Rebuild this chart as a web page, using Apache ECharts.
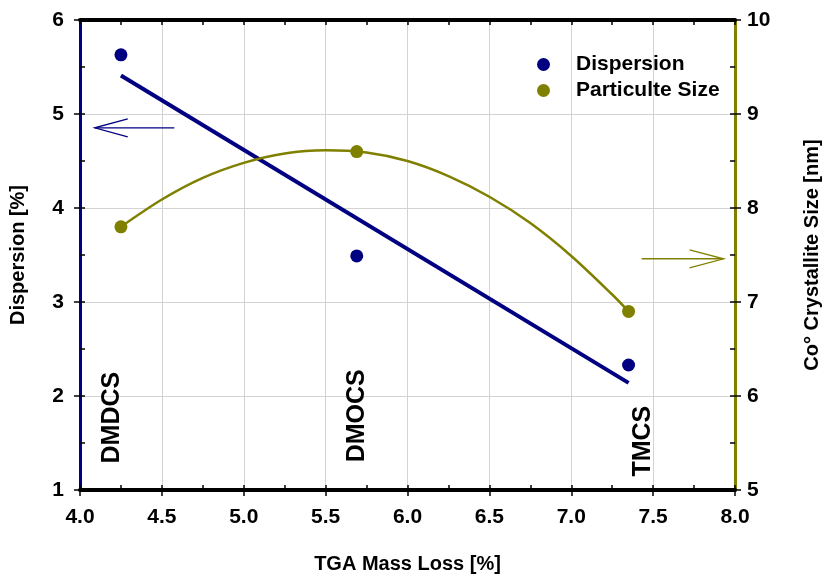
<!DOCTYPE html>
<html><head><meta charset="utf-8">
<script src="https://cdn.jsdelivr.net/npm/echarts@6/dist/echarts.min.js"></script>
<style>html,body{margin:0;padding:0;background:#fff}#c{width:830px;height:579px}</style>
</head><body><div id="c"></div>
<script>
const tgaLoss = [4.25, 5.69, 7.35];
const dispersion = [5.63, 3.49, 2.33];
const crystalliteSize = [7.8, 8.6, 6.9];
const sampleNames = ['DMDCS', 'DMOCS', 'TMCS'];
const dispersionFitX = [4.25, 7.35];
const dispersionFitY = [5.41, 2.14];
const sizeFitX = [4.25, 4.5, 4.75, 5.0, 5.25, 5.5, 5.75, 6.0, 6.25, 6.5, 6.75, 7.0, 7.25, 7.35];
const sizeFitY = [7.8, 8.09, 8.32, 8.48, 8.58, 8.615, 8.59, 8.5, 8.34, 8.12, 7.84, 7.49, 7.08, 6.9];
const xTicks = ['4.0','4.5','5.0','5.5','6.0','6.5','7.0','7.5','8.0'];

const NAVY = '#000080', OLIVE = '#808000';
const FONT = '"Liberation Sans", Arial, sans-serif';
const zip = (a, b) => a.map((v, i) => [v, b[i]]);

const chart = echarts.init(document.getElementById('c'));
const tickLbl = {fontFamily: FONT, fontWeight: 'bold', fontSize: 21, color: '#000'};
chart.setOption({
  animation: false,
  grid: {left: 80, right: 89, top: 20, bottom: 84},
  legend: {
    orient: 'vertical', left: 532, top: 49, itemGap: 5, itemWidth: 13, itemHeight: 13,
    icon: 'circle',
    textStyle: {fontFamily: FONT, fontWeight: 'bold', fontSize: 21, color: '#000', padding: [0,0,0,21]},
    data: ['Dispersion', 'Particulte Size']
  },
  xAxis: [
    {type: 'value', position: 'bottom', min: 4, max: 8, interval: 0.5,
     axisLine: {lineStyle: {color: '#000', width: 4}},
     axisTick: {show: true, length: 6, lineStyle: {color: '#000', width: 1.5}},
     axisLabel: Object.assign({margin: 17, formatter: (v) => xTicks[Math.round((v - 4) / 0.5)]}, tickLbl),
     splitLine: {show: true, lineStyle: {color: '#d3d3d3', width: 1}},
     name: 'TGA Mass Loss [%]', nameLocation: 'middle', nameGap: 64,
     nameTextStyle: {fontFamily: FONT, fontWeight: 'bold', fontSize: 20, color: '#000'}},
    {type: 'value', position: 'top', min: 4, max: 8, interval: 0.25,
     axisLine: {lineStyle: {color: '#000', width: 4}},
     axisTick: {show: true, inside: true, length: 5, lineStyle: {color: '#000', width: 1.5}},
     axisLabel: {show: false}, splitLine: {show: false}},
    {type: 'value', position: 'bottom', min: 4, max: 8, interval: 0.25,
     axisLine: {show: false},
     axisTick: {show: true, inside: true, length: 5, lineStyle: {color: '#000', width: 1.5}},
     axisLabel: {show: false}, splitLine: {show: false}}
  ],
  yAxis: [
    {type: 'value', position: 'left', min: 1, max: 6, interval: 1,
     axisLine: {show: true, lineStyle: {color: NAVY, width: 3}},
     axisTick: {show: true, length: 6, lineStyle: {color: '#000', width: 1.5}},
     axisLabel: Object.assign({margin: 16}, tickLbl),
     splitLine: {show: true, lineStyle: {color: '#d3d3d3', width: 1}},
     name: 'Dispersion [%]', nameLocation: 'middle', nameGap: 52, nameRotate: 90,
     nameTextStyle: {fontFamily: FONT, fontWeight: 'bold', fontSize: 20, color: '#000'}},
    {type: 'value', position: 'right', min: 5, max: 10, interval: 1,
     axisLine: {show: true, lineStyle: {color: OLIVE, width: 3}},
     axisTick: {show: true, length: 6, lineStyle: {color: '#000', width: 1.5}},
     axisLabel: Object.assign({margin: 12}, tickLbl),
     splitLine: {show: false},
     name: 'Co° Crystallite Size [nm]', nameLocation: 'middle', nameGap: 67, nameRotate: 90,
     nameTextStyle: {fontFamily: FONT, fontWeight: 'bold', fontSize: 20, color: '#000'}},
    {type: 'value', position: 'left', min: 1, max: 6, interval: 0.5,
     axisLine: {show: false},
     axisTick: {show: true, inside: true, length: 5, lineStyle: {color: '#000', width: 1.5}},
     axisLabel: {show: false}, splitLine: {show: false}},
    {type: 'value', position: 'right', min: 5, max: 10, interval: 0.5,
     axisLine: {show: false},
     axisTick: {show: true, inside: true, length: 5, lineStyle: {color: '#000', width: 1.5}},
     axisLabel: {show: false}, splitLine: {show: false}}
  ],
  series: [
    {name: 'Dispersion fit', type: 'line', xAxisIndex: 0, yAxisIndex: 0, data: zip(dispersionFitX, dispersionFitY),
     showSymbol: false, lineStyle: {color: NAVY, width: 4}, z: 2},
    {name: 'Size fit', type: 'line', xAxisIndex: 0, yAxisIndex: 1, data: zip(sizeFitX, sizeFitY),
     smooth: 0.3, showSymbol: false, lineStyle: {color: OLIVE, width: 2.5}, z: 2},
    {name: 'Dispersion', type: 'scatter', xAxisIndex: 0, yAxisIndex: 0, data: zip(tgaLoss, dispersion),
     symbolSize: 13, itemStyle: {color: NAVY, opacity: 1}, z: 3},
    {name: 'Particulte Size', type: 'scatter', xAxisIndex: 0, yAxisIndex: 1, data: zip(tgaLoss, crystalliteSize),
     symbolSize: 13, itemStyle: {color: OLIVE, opacity: 1}, z: 3}
  ]
});

function px(x, y, yi) { return chart.convertToPixel({xAxisIndex: 0, yAxisIndex: yi}, [x, y]); }
const labelPos = [[-9, 1.77], [0, 1.79], [15, 1.52]];
const g = [];
sampleNames.forEach((n, i) => {
  const p = px(tgaLoss[i], labelPos[i][1], 0);
  g.push({type: 'text', x: p[0] + labelPos[i][0], y: p[1], rotation: Math.PI / 2,
    style: {text: n, fontFamily: FONT, fontWeight: 'bold', fontSize: 25, fill: '#000', align: 'center', verticalAlign: 'middle'}});
});
// arrows
const a1s = px(4.576, 4.853, 0), a1e = px(4.09, 4.853, 0);
g.push({type: 'polyline', shape: {points: [a1s, a1e]}, style: {stroke: NAVY, lineWidth: 1.3, fill: null}});
g.push({type: 'polyline', shape: {points: [[a1e[0] + 33, a1e[1] - 9], a1e, [a1e[0] + 33, a1e[1] + 9]]}, style: {stroke: NAVY, lineWidth: 1.3, fill: null}});
const a2s = px(7.43, 7.46, 1), a2e = px(8 - 0.07, 7.46, 1);
g.push({type: 'polyline', shape: {points: [a2s, a2e]}, style: {stroke: OLIVE, lineWidth: 1.3, fill: null}});
g.push({type: 'polyline', shape: {points: [[a2e[0] - 34, a2e[1] - 9], a2e, [a2e[0] - 34, a2e[1] + 9]]}, style: {stroke: OLIVE, lineWidth: 1.3, fill: null}});
chart.setOption({graphic: g});
</script></body></html>
